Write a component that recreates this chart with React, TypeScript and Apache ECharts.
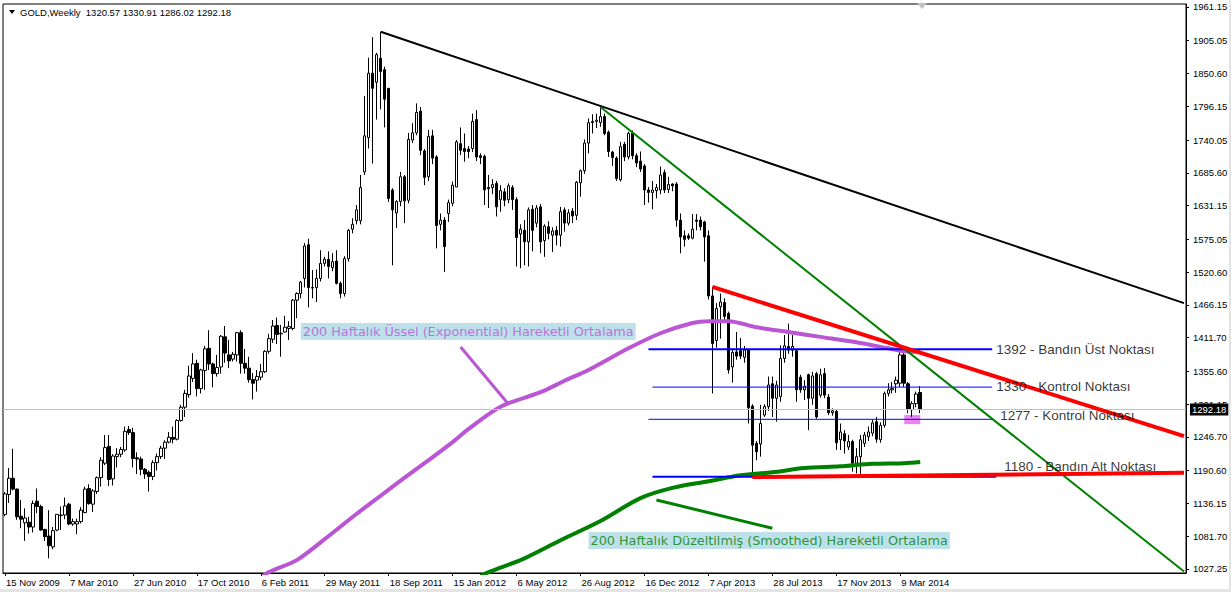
import React, { useEffect, useRef } from "react";
import * as echarts from "echarts";

// Weekly candles [open, high, low, close], first week = 15 Nov 2009
const weeklyOHLC: number[][] = [
  [1118, 1155, 1115, 1152], [1151, 1195, 1137, 1178], [1178, 1227, 1158, 1160], [1160, 1161, 1109, 1114],
  [1115, 1142, 1095, 1110], [1104, 1128, 1074, 1112], [1105, 1114, 1086, 1097], [1097, 1141, 1088, 1136],
  [1140, 1161, 1120, 1131], [1131, 1134, 1091, 1092], [1093, 1094, 1074, 1081], [1082, 1125, 1045, 1066],
  [1064, 1097, 1060, 1091], [1092, 1118, 1090, 1118], [1116, 1131, 1092, 1117], [1117, 1146, 1110, 1132],
  [1135, 1137, 1100, 1102], [1102, 1111, 1099, 1106], [1102, 1111, 1085, 1106], [1106, 1130, 1103, 1125],
  [1121, 1164, 1120, 1160], [1161, 1168, 1134, 1136], [1135, 1160, 1122, 1157], [1156, 1181, 1152, 1179],
  [1179, 1213, 1164, 1208], [1203, 1250, 1200, 1229], [1231, 1250, 1165, 1176], [1177, 1218, 1166, 1215],
  [1214, 1228, 1196, 1218], [1218, 1230, 1213, 1226], [1225, 1264, 1222, 1256], [1259, 1265, 1250, 1254],
  [1254, 1262, 1196, 1211], [1212, 1221, 1185, 1210], [1210, 1214, 1183, 1193], [1193, 1195, 1177, 1185],
  [1188, 1191, 1156, 1181], [1181, 1208, 1175, 1204], [1204, 1219, 1191, 1214], [1214, 1232, 1210, 1228],
  [1228, 1241, 1210, 1238], [1238, 1255, 1236, 1246], [1246, 1264, 1236, 1243], [1243, 1276, 1241, 1274],
  [1274, 1300, 1272, 1296], [1296, 1325, 1280, 1319], [1317, 1365, 1312, 1348], [1344, 1386, 1338, 1368],
  [1369, 1375, 1314, 1327], [1327, 1360, 1319, 1358], [1357, 1398, 1325, 1393], [1394, 1424, 1358, 1368],
  [1368, 1370, 1329, 1352], [1352, 1383, 1347, 1362], [1363, 1416, 1352, 1414], [1413, 1431, 1370, 1386],
  [1383, 1408, 1361, 1373], [1376, 1388, 1372, 1384], [1383, 1421, 1372, 1420], [1420, 1424, 1352, 1369],
  [1369, 1393, 1352, 1361], [1361, 1380, 1337, 1342], [1342, 1353, 1309, 1336], [1341, 1358, 1322, 1347],
  [1346, 1368, 1341, 1355], [1355, 1391, 1353, 1389], [1389, 1418, 1385, 1410], [1409, 1441, 1403, 1431],
  [1432, 1445, 1401, 1417], [1418, 1433, 1380, 1419], [1421, 1448, 1420, 1429], [1427, 1439, 1408, 1430],
  [1427, 1476, 1424, 1474], [1474, 1487, 1444, 1485], [1485, 1506, 1477, 1504], [1510, 1569, 1495, 1564],
  [1566, 1576, 1462, 1495], [1495, 1524, 1477, 1494], [1495, 1525, 1471, 1510], [1510, 1557, 1505, 1535],
  [1535, 1546, 1530, 1542], [1542, 1555, 1510, 1530], [1528, 1552, 1522, 1538], [1539, 1557, 1500, 1502],
  [1502, 1505, 1477, 1485], [1485, 1547, 1480, 1543], [1543, 1592, 1538, 1590], [1592, 1610, 1585, 1600],
  [1606, 1632, 1600, 1624], [1606, 1682, 1600, 1661], [1687, 1813, 1682, 1747], [1744, 1877, 1726, 1851],
  [1851, 1911, 1701, 1826], [1836, 1885, 1774, 1882], [1876, 1920, 1791, 1854], [1857, 1862, 1761, 1808],
  [1826, 1826, 1637, 1643], [1657, 1660, 1532, 1624], [1619, 1640, 1594, 1638], [1638, 1687, 1630, 1679],
  [1679, 1682, 1602, 1639], [1640, 1752, 1635, 1741], [1740, 1768, 1735, 1752], [1752, 1801, 1748, 1786],
  [1788, 1795, 1715, 1723], [1722, 1725, 1665, 1678], [1679, 1757, 1672, 1746], [1747, 1757, 1700, 1710],
  [1712, 1715, 1560, 1598], [1600, 1618, 1590, 1607], [1607, 1612, 1521, 1563], [1618, 1641, 1604, 1636],
  [1635, 1671, 1630, 1665], [1662, 1740, 1662, 1737], [1734, 1761, 1715, 1723], [1726, 1751, 1704, 1721],
  [1725, 1730, 1710, 1721], [1726, 1784, 1720, 1771], [1774, 1790, 1705, 1712], [1714, 1718, 1700, 1711],
  [1713, 1716, 1632, 1657], [1661, 1682, 1627, 1659], [1661, 1675, 1650, 1666], [1668, 1672, 1613, 1629],
  [1641, 1665, 1621, 1656], [1654, 1660, 1630, 1640], [1641, 1668, 1635, 1664], [1661, 1665, 1624, 1641],
  [1641, 1645, 1530, 1578], [1584, 1600, 1527, 1592], [1590, 1607, 1532, 1571], [1571, 1628, 1530, 1624],
  [1625, 1632, 1555, 1590], [1602, 1632, 1595, 1627], [1629, 1634, 1552, 1571], [1573, 1600, 1546, 1597],
  [1596, 1605, 1575, 1585], [1582, 1595, 1554, 1589], [1590, 1597, 1565, 1582], [1582, 1629, 1563, 1621],
  [1624, 1628, 1588, 1602], [1602, 1625, 1598, 1619], [1622, 1627, 1602, 1614], [1615, 1672, 1607, 1670],
  [1669, 1691, 1646, 1689], [1689, 1741, 1684, 1735], [1735, 1776, 1718, 1769], [1769, 1783, 1751, 1771],
  [1771, 1784, 1760, 1773], [1769, 1795, 1762, 1779], [1779, 1784, 1748, 1751], [1753, 1756, 1712, 1721],
  [1720, 1722, 1697, 1711], [1710, 1713, 1672, 1676], [1674, 1737, 1671, 1729], [1733, 1737, 1705, 1712],
  [1712, 1754, 1708, 1751], [1751, 1756, 1708, 1714], [1714, 1718, 1695, 1702], [1705, 1721, 1687, 1692],
  [1697, 1700, 1632, 1657], [1657, 1662, 1636, 1653], [1653, 1672, 1625, 1657], [1656, 1667, 1643, 1661],
  [1657, 1696, 1650, 1682], [1686, 1691, 1652, 1657], [1658, 1679, 1652, 1666], [1667, 1668, 1655, 1664],
  [1667, 1670, 1596, 1607], [1607, 1618, 1552, 1579], [1581, 1590, 1563, 1575], [1581, 1585, 1574, 1577],
  [1577, 1617, 1575, 1592], [1607, 1617, 1590, 1605], [1607, 1613, 1590, 1596], [1604, 1606, 1538, 1579],
  [1581, 1590, 1475, 1481], [1481, 1496, 1319, 1402], [1407, 1469, 1395, 1460], [1463, 1485, 1410, 1471],
  [1470, 1477, 1440, 1447], [1452, 1455, 1352, 1358], [1363, 1394, 1337, 1387], [1388, 1421, 1375, 1381],
  [1390, 1411, 1376, 1381], [1379, 1398, 1370, 1391], [1391, 1393, 1269, 1295], [1298, 1301, 1180, 1233],
  [1236, 1240, 1208, 1222], [1235, 1300, 1214, 1269], [1283, 1301, 1280, 1297], [1297, 1347, 1290, 1333],
  [1335, 1347, 1280, 1311], [1311, 1340, 1272, 1333], [1314, 1399, 1305, 1377], [1377, 1416, 1370, 1398],
  [1397, 1435, 1385, 1391], [1391, 1416, 1380, 1397], [1390, 1393, 1305, 1325], [1346, 1350, 1320, 1325],
  [1325, 1341, 1308, 1331], [1350, 1352, 1258, 1311], [1311, 1355, 1300, 1348], [1352, 1355, 1277, 1280],
  [1316, 1360, 1312, 1350], [1352, 1361, 1311, 1316], [1313, 1318, 1283, 1287], [1287, 1294, 1282, 1290],
  [1289, 1292, 1225, 1237], [1242, 1269, 1225, 1255], [1252, 1258, 1219, 1240], [1230, 1250, 1225, 1239],
  [1239, 1242, 1189, 1203], [1203, 1228, 1186, 1214], [1214, 1250, 1185, 1242], [1236, 1255, 1230, 1250],
  [1247, 1264, 1240, 1255], [1253, 1275, 1248, 1270], [1272, 1280, 1237, 1243], [1242, 1271, 1237, 1266],
  [1266, 1322, 1262, 1319], [1319, 1336, 1314, 1325], [1325, 1338, 1319, 1327], [1335, 1347, 1320, 1341],
  [1336, 1388, 1330, 1383], [1383, 1390, 1330, 1336], [1335, 1338, 1286, 1293], [1292, 1306, 1280, 1302],
  [1302, 1322, 1296, 1318], [1320.57, 1330.91, 1286.02, 1292.18],
];

const lastQuote = { open: 1320.57, high: 1330.91, low: 1286.02, close: 1292.18 };

// 200-week exponential MA, [week index, value]
const emaPoints: number[][] = [
  [64, 1012], [66, 1022], [73, 1042], [80, 1077], [88, 1119], [94, 1149], [100, 1179], [106, 1208],
  [112, 1238], [116, 1260], [124, 1297], [134, 1321], [140, 1340], [146, 1358], [156, 1394], [164, 1419],
  [172, 1436], [176, 1439], [181, 1439], [188, 1429], [196, 1421], [204, 1413], [213, 1404], [221, 1394],
  [225, 1389], [229, 1388],
];

// 200-week smoothed MA, [week index, value]
const smmaPoints: number[][] = [
  [119, 1015], [121, 1022], [130, 1045], [139, 1075], [149, 1107], [159, 1145], [167, 1162], [176, 1173],
  [184, 1183], [192, 1188], [200, 1195], [209, 1198], [217, 1202], [225, 1203], [229, 1205],
];

// Trend lines: [[week, price], [week, price]]
const blackTrend = [[94, 1920], [295, 1469]];
const greenTrend = [[149, 1795], [295, 1023]];
const redUpperTrend = [[177, 1496], [295, 1248]];
const redLowerTrend = [[187, 1180], [295, 1187]];

// Horizontal levels: [fromWeek, toWeek, price]
const bandTop = [161, 247, 1392.5];
const control1 = [162, 247, 1329.5];
const control2 = [161, 247, 1276];
const bandBottom = [162, 248, 1180.5];

// Pointer lines from the notes to the moving averages
const emaPointer = [[114, 1396], [126, 1301]];
const smmaPointer = [[163, 1142], [192, 1095]];

// Highlighted zone [fromWeek, toWeek, high, low]
const pinkZone = [225, 229, 1283, 1268];

const yTickValues = [
  1027.25, 1081.7, 1136.15, 1190.6, 1246.7, 1301.15, 1355.6, 1411.7, 1466.15, 1520.6,
  1575.05, 1631.15, 1685.6, 1740.05, 1796.15, 1850.6, 1905.05, 1961.15,
];

const notes = [
  { text: "1392 - Bandın Üst Noktası", at: [248, 1392.5], kind: "level" },
  { text: "1330 - Kontrol Noktası", at: [248, 1331], kind: "level" },
  { text: "1277 - Kontrol Noktası", at: [249, 1283], kind: "level" },
  { text: "1180 - Bandın Alt Noktası", at: [250, 1198], kind: "level" },
  { text: "200 Haftalık Üssel (Exponential) Hareketli Ortalama", at: [74, 1422], kind: "ema" },
  { text: "200 Haftalık Düzeltilmiş (Smoothed) Hareketli Ortalama", at: [146, 1074.6], kind: "smma" },
];

const MONTHS = ["Jan", "Feb", "Mar", "Apr", "May", "Jun", "Jul", "Aug", "Sep", "Oct", "Nov", "Dec"];
const FIRST_WEEK = Date.UTC(2009, 10, 15);
const MISSING_WEEK = "25 Dec 2011";
const WEEK_SLOTS = 296;

function buildWeeks(): string[] {
  const out: string[] = [];
  let t = FIRST_WEEK;
  while (out.length < WEEK_SLOTS) {
    const d = new Date(t);
    const s = `${d.getUTCDate()} ${MONTHS[d.getUTCMonth()]} ${d.getUTCFullYear()}`;
    if (s !== MISSING_WEEK) out.push(s);
    t += 7 * 86400000;
  }
  return out;
}

const AXIS_FONT = "Liberation Sans";

export default function App() {
  const ref = useRef<HTMLDivElement>(null);
  useEffect(() => {
    const el = ref.current;
    if (!el) return;
    const chart = echarts.init(el, null, { renderer: "svg" });
    const weeks = buildWeeks();
    const lastIdx = weeklyOHLC.length - 1;
    const showLabel = (i: number) => i % 16 === 0 && i <= lastIdx;

    const lineSeries = (data: number[][], color: string, width: number, z = 3, smooth: number | boolean = false) => ({
      type: "line",
      data,
      symbol: "none",
      showSymbol: false,
      silent: true,
      smooth,
      z,
      lineStyle: { color, width, cap: "butt" },
    });
    const level = (lv: number[], color: string, width: number) =>
      lineSeries([[lv[0], lv[2]], [lv[1], lv[2]]], color, width, 4);

    const noteData = notes.map((n) => {
      const base: any = {
        value: n.at,
        label: {
          show: true,
          position: "right",
          distance: 0,
          formatter: n.text,
          color: "#000",
          fontFamily: "Liberation Sans",
          fontSize: 13.5,
        },
      };
      if (n.kind !== "level") {
        base.label = {
          ...base.label,
          color: n.kind === "ema" ? "#BA55D3" : "#008000",
          fontFamily: "DejaVu Sans",
          fontSize: 12.8,
          backgroundColor: "#ADD8E6",
          padding: [2, 2, 2, 2],
        };
      }
      return base;
    });

    chart.setOption({
      animation: false,
      backgroundColor: "#fff",
      grid: { left: 3, right: 45, top: 4, bottom: 19, show: true, borderColor: "#000", borderWidth: 1 },
      xAxis: {
        type: "category",
        data: weeks,
        boundaryGap: true,
        axisLine: { show: true, lineStyle: { color: "#000", width: 1 } },
        axisTick: { show: true, interval: (i: number) => showLabel(i), alignWithLabel: true, length: 3, lineStyle: { color: "#000" } },
        axisLabel: {
          interval: (i: number) => showLabel(i),
          align: "left",
          color: "#000",
          fontFamily: AXIS_FONT,
          fontSize: 9.5,
          margin: 4,
          padding: [0, 0, 0, 1],
        },
        splitLine: { show: false },
      },
      yAxis: {
        type: "value",
        position: "right",
        min: 1020.6,
        max: 1966.1,
        axisLine: { show: true, lineStyle: { color: "#000" } },
        axisTick: { show: true, customValues: yTickValues, length: 3, lineStyle: { color: "#000" } },
        axisLabel: {
          customValues: yTickValues,
          formatter: (v: number) => v.toFixed(2),
          color: "#000",
          fontFamily: AXIS_FONT,
          fontSize: 9.5,
          margin: 7,
        },
        splitLine: { show: false },
      },
      series: [
        {
          type: "candlestick",
          data: weeklyOHLC.map(([o, h, l, c]) => [o, c, l, h]),
          barWidth: 3,
          z: 2,
          itemStyle: { color: "#fff", color0: "#000", borderColor: "#000", borderColor0: "#000", borderWidth: 1 },
          markLine: {
            silent: true,
            symbol: ["none", "none"],
            data: [{ yAxis: lastQuote.close }],
            lineStyle: { color: "#c0c0c0", width: 1, type: "solid" },
            label: {
              show: true,
              position: "end",
              distance: 4,
              formatter: lastQuote.close.toFixed(2),
              color: "#fff",
              backgroundColor: "#000",
              fontFamily: AXIS_FONT,
              fontSize: 9.5,
              padding: [1, 2, 1, 2],
            },
          },
          markArea: {
            silent: true,
            itemStyle: { color: "#EE82EE", opacity: 1 },
            data: [[{ coord: [pinkZone[0], pinkZone[2]] }, { coord: [pinkZone[1], pinkZone[3]] }]],
          },
        },
        lineSeries(emaPoints, "#BA55D3", 4, 3, 0.3),
        lineSeries(smmaPoints, "#008000", 4, 3, 0.3),
        lineSeries(emaPointer, "#BA55D3", 3),
        lineSeries(smmaPointer, "#008000", 3),
        lineSeries(blackTrend, "#000", 2, 5),
        lineSeries(greenTrend, "#008000", 2, 5),
        lineSeries(redUpperTrend, "#ff0000", 4, 5),
        lineSeries(redLowerTrend, "#ff0000", 4, 5),
        level(bandTop, "#0000ff", 2),
        level(control1, "#0000ff", 1),
        level(control2, "#0000ff", 1),
        level(bandBottom, "#0000ff", 2),
        {
          type: "scatter",
          data: noteData,
          symbolSize: 0,
          silent: true,
          z: 6,
        },
      ],
      graphic: [
        { type: "polygon", shape: { points: [[9, 10], [15, 10], [12, 14]] }, style: { fill: "#000" } },
        {
          type: "text",
          x: 20,
          y: 7,
          style: {
            text: `GOLD,Weekly  ${lastQuote.open.toFixed(2)} ${lastQuote.high.toFixed(2)} ${lastQuote.low.toFixed(2)} ${lastQuote.close.toFixed(2)}`,
            fill: "#000",
            font: `9.5px "${AXIS_FONT}"`,
          },
        },
        { type: "polygon", shape: { points: [[917, 3], [927, 3], [922, 9]] }, style: { fill: "#c0c0c0" } },
        { type: "rect", shape: { x: 0, y: 589, width: 1231, height: 3 }, style: { fill: "#e4e4e4" } },
        { type: "rect", shape: { x: 1229, y: 0, width: 2, height: 592 }, style: { fill: "#e4e4e4" } },
      ],
    });
    return () => chart.dispose();
  }, []);
  return (
    <div
      ref={ref}
      style={{ position: "fixed", left: 0, top: 0, width: 1231, height: 592, background: "#fff" }}
    />
  );
}
